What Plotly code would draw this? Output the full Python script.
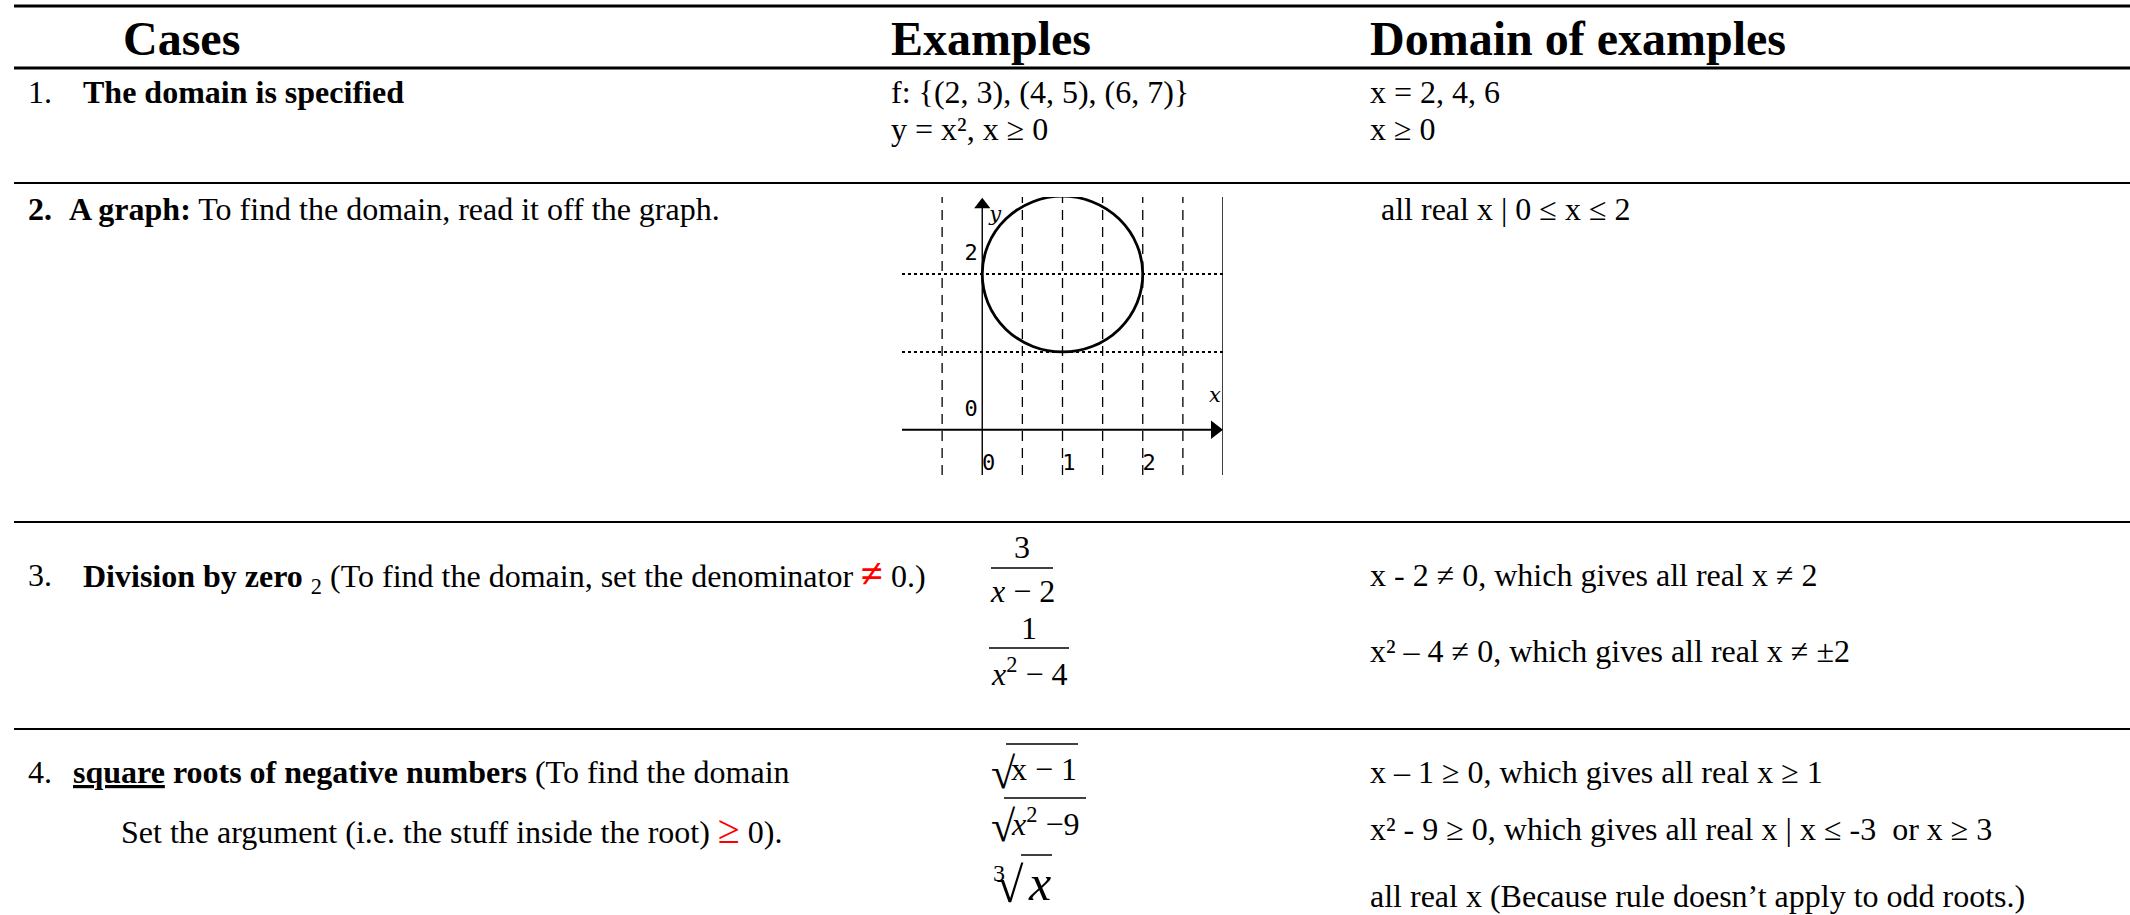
import plotly.graph_objects as go

W, H = 2130, 915

# ---------------- data ----------------
headers = ["Cases", "Examples", "Domain of examples"]
case_numbers = ["1.", "<b>2.</b>", "3.", "4."]
case_texts = [
    "<b>The domain is specified</b>",
    "<b>A graph:</b> To find the domain, read it off the graph.",
    "<b>Division by zero</b> <sub>2</sub> (To find the domain, set the denominator "
    "<span style='color:#ff0000;font-size:40px'><b>≠</b></span> 0.)",
    "<b><u>square</u> roots of negative numbers</b> (To find the domain",
]
case4_line2 = ("Set the argument (i.e. the stuff inside the root) "
               "<span style='color:#ff0000;font-size:40px'>≥</span> 0).")
examples_row1 = ["f: {(2, 3), (4, 5), (6, 7)}", "y = x², x ≥ 0"]
frac_numerators = ["3", "1"]
frac_denominators = ["<i>x</i> − 2", "<i>x</i><sup>2</sup> − 4"]
root_args = ["x − 1", "<i>x</i><sup>2</sup> −9"]
domains_row1 = ["x = 2, 4, 6", "x ≥ 0"]
domain_row2 = "all real x | 0 ≤ x ≤ 2"
domains_row3 = ["x - 2 ≠ 0, which gives all real x ≠ 2",
                "x² – 4 ≠ 0, which gives all real x ≠ ±2"]
domains_row4 = ["x – 1 ≥ 0, which gives all real x ≥ 1",
                "x² - 9 ≥ 0, which gives all real x | x ≤ -3  or x ≥ 3",
                "all real x (Because rule doesn’t apply to odd roots.)"]

# small graph (row 2)
circle_center = (1, 2)
circle_radius = 1
grid_x = [-0.5, 0.5, 1, 1.5, 2, 2.5]
grid_y = [1, 2]
x_tick_vals = [0, 1, 2]
x_tick_text = ["0", "1", "2"]
y_tick_vals = [0, 2]
y_tick_text = ["0", "2"]
gx_range = [-1, 3]
gy_range = [-0.58, 2.99]

# ---------------- helpers ----------------
def px(x):
    return x / W

def py(y):
    return 1 - y / H

FONT = "Liberation Serif, Times New Roman, serif"
BLACK = "#000000"
BODY = 32

annotations = []
shapes = []

def text(x, y, s, size=BODY, anchor="left", bold=False, color=BLACK, family=FONT):
    if bold:
        s = "<b>" + s + "</b>"
    annotations.append(dict(
        x=px(x), y=py(y), xref="paper", yref="paper", text=s, showarrow=False,
        xanchor=anchor, yanchor="middle", font=dict(family=family, size=size, color=color),
        borderpad=0,
    ))

def hline(y, x0=14, x1=W, width=2):
    shapes.append(dict(type="line", xref="paper", yref="paper",
                       x0=px(x0), x1=px(x1), y0=py(y), y1=py(y),
                       line=dict(color=BLACK, width=width)))

# ---------------- table rules ----------------
hline(6, width=3)
hline(68, width=3)
hline(183, width=2)
hline(522, width=2)
hline(729, width=2)

# ---------------- headers ----------------
COLX = [122, 890, 1369]
for hx, h in zip(COLX, headers):
    text(hx, 38, h, size=48, bold=True)

# ---------------- column 1 ----------------
NUM_X = 27
text(NUM_X, 92, case_numbers[0])
text(82, 92, case_texts[0])
text(NUM_X, 209, case_numbers[1])
text(68, 209, case_texts[1])
text(NUM_X, 575, case_numbers[2])
text(82, 575, case_texts[2])
text(NUM_X, 772, case_numbers[3])
text(72, 772, case_texts[3])
text(120, 829, case4_line2)

# ---------------- column 2 ----------------
text(890, 92, examples_row1[0])
text(890, 129, examples_row1[1])

# fractions
frac_cx = [1022, 1029]
num_y = [547, 628]
bar_y = [568, 648]
den_y = [591, 672]
bar_half = [31, 40]
for i in range(2):
    text(frac_cx[i], num_y[i], frac_numerators[i], anchor="center")
    text(frac_cx[i], den_y[i], frac_denominators[i], anchor="center")
    shapes.append(dict(type="line", xref="paper", yref="paper",
                       x0=px(frac_cx[i] - bar_half[i]), x1=px(frac_cx[i] + bar_half[i]),
                       y0=py(bar_y[i]), y1=py(bar_y[i]), line=dict(color=BLACK, width=1.5)))

# square roots
root_y = [769, 822]
root_bar_y = [744, 798]
root_bar_x = [(1006, 1078), (1004, 1086)]
for i in range(2):
    text(990, root_y[i] + 4, "√", size=44)
    text(1010, root_y[i], root_args[i])
    shapes.append(dict(type="line", xref="paper", yref="paper",
                       x0=px(root_bar_x[i][0]), x1=px(root_bar_x[i][1]),
                       y0=py(root_bar_y[i]), y1=py(root_bar_y[i]), line=dict(color=BLACK, width=1.5)))
# cube root
text(1006, 873, "3", size=24, anchor="right")
text(995, 885, "√", size=50)
text(1027, 883, "<i>x</i>", size=50)
shapes.append(dict(type="line", xref="paper", yref="paper",
                   x0=px(1021), x1=px(1052), y0=py(855), y1=py(855),
                   line=dict(color=BLACK, width=1.5)))

# ---------------- column 3 ----------------
text(1369, 92, domains_row1[0])
text(1369, 129, domains_row1[1])
text(1380, 209, domain_row2)
text(1369, 575, domains_row3[0])
text(1369, 651, domains_row3[1])
text(1369, 772, domains_row4[0])
text(1369, 829, domains_row4[1])
text(1369, 896, domains_row4[2])

# ---------------- small graph ----------------
fig = go.Figure()

gxs, gys = [], []
for gx in grid_x:
    gxs += [gx, gx, None]
    gys += [gy_range[0], gy_range[1], None]
fig.add_trace(go.Scatter(x=gxs, y=gys, mode="lines", xaxis="x", yaxis="y",
                         line=dict(color=BLACK, width=1.3, dash="10px,7px"),
                         hoverinfo="skip", showlegend=False))
hxs, hys = [], []
for gyv in grid_y:
    hxs += [gx_range[0], gx_range[1], None]
    hys += [gyv, gyv, None]
fig.add_trace(go.Scatter(x=hxs, y=hys, mode="lines", xaxis="x", yaxis="y",
                         line=dict(color=BLACK, width=2, dash="3px,3px"),
                         hoverinfo="skip", showlegend=False))
# right border of graph
fig.add_trace(go.Scatter(x=[gx_range[1], gx_range[1]], y=[gy_range[0] - 0.1, gy_range[1]],
                         mode="lines", xaxis="x", yaxis="y",
                         line=dict(color=BLACK, width=1.5), hoverinfo="skip", showlegend=False,
                         cliponaxis=False))
# axes (x axis and y axis) with arrowheads
fig.add_trace(go.Scatter(x=[gx_range[0], gx_range[1] - 0.12], y=[0, 0], mode="lines",
                         xaxis="x", yaxis="y", line=dict(color=BLACK, width=2),
                         hoverinfo="skip", showlegend=False, cliponaxis=False))
fig.add_trace(go.Scatter(x=[0, 0], y=[gy_range[0], gy_range[1] - 0.12], mode="lines",
                         xaxis="x", yaxis="y", line=dict(color=BLACK, width=1.4),
                         hoverinfo="skip", showlegend=False, cliponaxis=False))
fig.add_trace(go.Scatter(x=[gx_range[1] - 0.1], y=[0], mode="markers", xaxis="x", yaxis="y",
                         marker=dict(symbol="triangle-right", size=16, color=BLACK, line=dict(width=0)),
                         hoverinfo="skip", showlegend=False, cliponaxis=False))
fig.add_trace(go.Scatter(x=[0], y=[gy_range[1] - 0.1], mode="markers", xaxis="x", yaxis="y",
                         marker=dict(symbol="triangle-up", size=14, color=BLACK, line=dict(width=0)),
                         hoverinfo="skip", showlegend=False, cliponaxis=False))
# tick labels
fig.add_trace(go.Scatter(x=[v + 0.08 for v in x_tick_vals], y=[-0.45] * len(x_tick_vals),
                         mode="text", text=x_tick_text, xaxis="x", yaxis="y",
                         textfont=dict(family="DejaVu Sans Mono", size=22, color=BLACK),
                         hoverinfo="skip", showlegend=False, cliponaxis=False))
fig.add_trace(go.Scatter(x=[-0.14] * len(y_tick_vals), y=[v + 0.25 for v in y_tick_vals],
                         mode="text", text=y_tick_text, xaxis="x", yaxis="y",
                         textfont=dict(family="DejaVu Sans Mono", size=22, color=BLACK),
                         hoverinfo="skip", showlegend=False, cliponaxis=False))
fig.add_trace(go.Scatter(x=[2.9, 0.16], y=[0.42, 2.75], mode="text", text=["<i>x</i>", "<i>y</i>"],
                         xaxis="x", yaxis="y",
                         textfont=dict(family="DejaVu Serif", size=21, color=BLACK),
                         hoverinfo="skip", showlegend=False, cliponaxis=False))

# circle
cx, cy = circle_center
shapes.append(dict(type="circle", xref="x", yref="y",
                   x0=cx - circle_radius, x1=cx + circle_radius,
                   y0=cy - circle_radius, y1=cy + circle_radius,
                   line=dict(color=BLACK, width=2.8)))

fig.update_layout(
    width=W, height=H,
    margin=dict(l=0, r=0, t=0, b=0),
    paper_bgcolor="white", plot_bgcolor="rgba(0,0,0,0)",
    xaxis=dict(domain=[px(902), px(1223)], range=gx_range, visible=False, fixedrange=True),
    yaxis=dict(domain=[py(475), py(197)], range=gy_range, visible=False, fixedrange=True),
    shapes=shapes, annotations=annotations,
    showlegend=False,
)

fig.write_html("out.html", config={"displayModeBar": False},
               post_script="document.body.style.margin='0';document.body.style.overflow='hidden';")
